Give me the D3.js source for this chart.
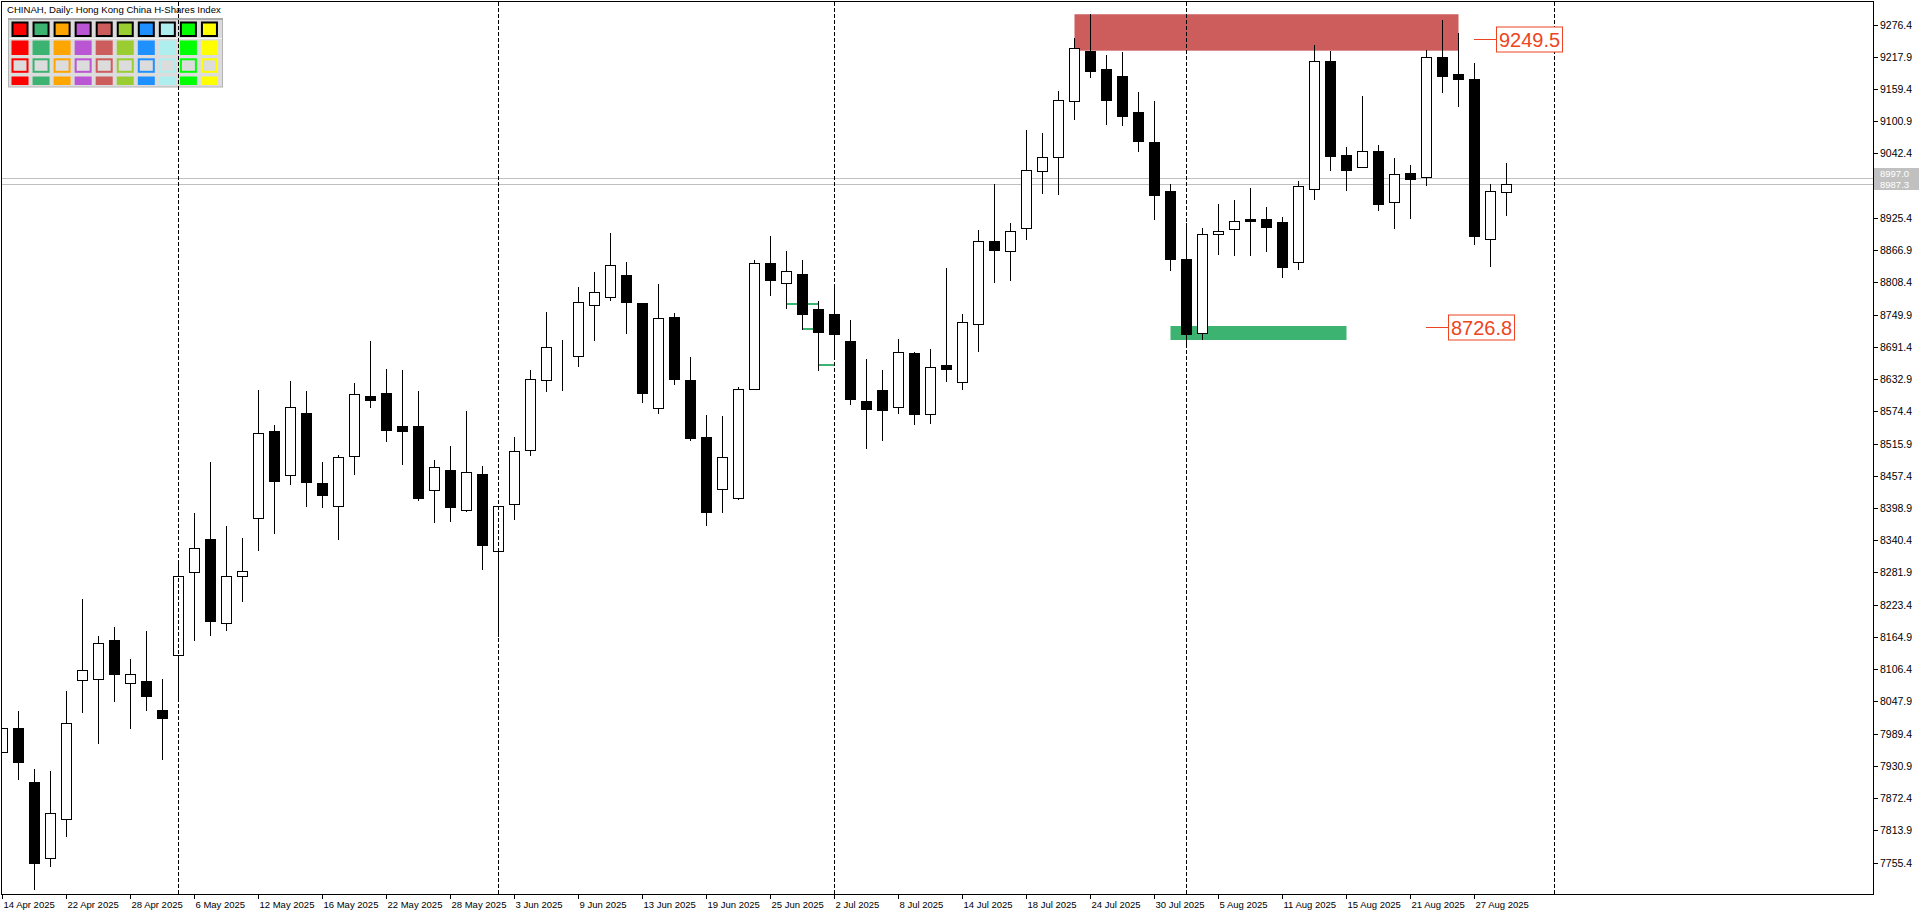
<!DOCTYPE html>
<html><head><meta charset="utf-8">
<script src="https://cdn.jsdelivr.net/npm/d3@7"></script>
<style>html,body{margin:0;padding:0;background:#fff;overflow:hidden}</style>
</head><body><svg id="c" width="1920" height="915"></svg>
<script>
// ---------- data ----------
const dates = ["2025-04-14","2025-04-15","2025-04-16","2025-04-17","2025-04-22","2025-04-23","2025-04-24","2025-04-25","2025-04-28","2025-04-29",
"2025-04-30","2025-05-02","2025-05-06","2025-05-07","2025-05-08","2025-05-09","2025-05-12","2025-05-13","2025-05-14","2025-05-15",
"2025-05-16","2025-05-19","2025-05-20","2025-05-21","2025-05-22","2025-05-23","2025-05-26","2025-05-27","2025-05-28","2025-05-29",
"2025-05-30","2025-06-02","2025-06-03","2025-06-04","2025-06-05","2025-06-06","2025-06-09","2025-06-10","2025-06-11","2025-06-12",
"2025-06-13","2025-06-16","2025-06-17","2025-06-18","2025-06-19","2025-06-20","2025-06-23","2025-06-24","2025-06-25","2025-06-26",
"2025-06-27","2025-06-30","2025-07-02","2025-07-03","2025-07-04","2025-07-07","2025-07-08","2025-07-09","2025-07-10","2025-07-11",
"2025-07-14","2025-07-15","2025-07-16","2025-07-17","2025-07-18","2025-07-21","2025-07-22","2025-07-23","2025-07-24","2025-07-25",
"2025-07-28","2025-07-29","2025-07-30","2025-07-31","2025-08-01","2025-08-04","2025-08-05","2025-08-06","2025-08-07","2025-08-08",
"2025-08-11","2025-08-12","2025-08-13","2025-08-14","2025-08-15","2025-08-18","2025-08-19","2025-08-20","2025-08-21","2025-08-22",
"2025-08-25","2025-08-26","2025-08-27","2025-08-28","2025-08-29"];
const opens = [7956.9,7998.8,7901.2,7763.1,7833.8,8086.3,8088.1,8158.8,8081.9,8084.4,
8031.9,8131.3,8281.9,8341.9,8189.4,8276.3,8381.3,8538.1,8458.2,8571.3,
8444.3,8401.9,8492.7,8601.6,8607.6,8547.7,8547.7,8430.9,8467.8,8394.6,
8460.6,8320.2,8405.5,8503.5,8630.6,8672.9,8674.2,8766.7,8781.2,8821.2,
8770.3,8579.8,8744.9,8630.6,8527.1,8432.8,8416.4,8614.3,8843.6,8806.6,
8823.6,8760.1,8751.0,8702.0,8593.1,8613.0,8582.7,8679.5,8568.8,8658.4,
8626.9,8732.2,8882.8,8864.7,8906.4,9009.9,9035.3,9136.9,9227.7,9195.0,
9182.3,9117.0,9062.5,8974.2,8850.8,8715.8,8895.5,8904.6,8923.4,8922.8,
8917.9,8844.7,8977.2,9209.5,9038.9,9017.1,9046.2,8954.8,9006.9,8999.0,
9217.4,9186.5,9177.5,8886.5,8971.8];
const highs = [7999.5,8030.0,7925.0,7921.9,8066.3,8233.1,8167.5,8182.5,8124.4,8175.0,
8088.1,8303.8,8390.0,8482.5,8365.6,8343.8,8612.5,8549.4,8629.0,8611.2,
8482.4,8494.5,8625.8,8702.0,8651.2,8649.3,8611.2,8486.0,8511.4,8574.9,
8475.1,8402.5,8527.7,8649.3,8754.6,8703.8,8799.4,8827.2,8898.0,8845.4,
8771.0,8804.8,8752.2,8672.9,8567.1,8565.3,8617.9,8848.4,8892.6,8865.3,
8849.0,8774.6,8798.2,8740.1,8669.3,8649.3,8705.6,8682.0,8686.8,8834.4,
8750.9,8903.4,8986.9,8915.5,9084.9,9079.5,9155.7,9251.3,9296.0,9221.0,
9226.5,9153.3,9137.5,8986.9,8915.5,8906.4,8950.6,8957.8,8979.6,8945.1,
8927.0,8991.7,9239.2,9228.3,9054.0,9146.6,9057.7,9034.1,9021.4,9230.1,
9284.5,9261.0,9207.1,8986.9,9025.0];
const lows = [7956.0,7907.5,7708.1,7750.0,7804.4,8029.4,7973.1,8049.4,7998.8,8033.1,
7943.8,8049.4,8160.0,8168.8,8178.1,8230.6,8321.9,8354.4,8443.0,8403.1,
8401.3,8342.6,8461.2,8582.8,8521.1,8479.3,8414.0,8373.5,8375.9,8394.0,
8288.8,8167.2,8379.5,8495.1,8611.8,8613.7,8657.2,8704.4,8777.0,8717.1,
8591.9,8571.9,8624.5,8522.9,8368.0,8391.6,8416.0,8614.0,8785.5,8762.5,
8723.8,8650.0,8669.9,8588.2,8508.4,8522.2,8571.9,8551.3,8553.7,8629.9,
8615.4,8684.4,8809.6,8813.3,8887.7,8971.2,8969.3,9105.5,9180.3,9096.4,
9094.6,9047.4,8923.4,8831.4,8698.9,8705.6,8859.8,8858.0,8858.0,8865.3,
8818.1,8833.2,8960.3,9012.3,8976.0,9017.0,8939.7,8907.0,8925.2,8985.1,
9153.9,9128.5,8878.0,8838.1,8931.2];
const closes = [7998.8,7937.5,7753.8,7845.0,8008.1,8104.4,8153.1,8098.1,8096.9,8058.1,
8018.1,8276.3,8325.6,8194.4,8276.3,8283.8,8534.4,8448.8,8581.8,8446.7,
8423.1,8490.8,8605.2,8595.5,8541.1,8539.2,8417.6,8472.7,8401.3,8463.6,
8332.3,8401.9,8501.7,8632.4,8690.5,8672.9,8772.2,8790.3,8839.3,8773.4,
8608.2,8743.1,8633.6,8526.5,8392.2,8490.8,8614.3,8842.9,8813.3,8828.4,
8751.6,8718.9,8715.3,8597.3,8579.2,8577.3,8681.4,8570.0,8654.1,8651.7,
8735.8,8882.8,8867.7,8901.0,9011.7,9035.3,9138.7,9233.1,9192.6,9140.0,
9110.9,9065.5,8967.5,8851.4,8715.2,8895.5,8901.0,8919.1,8920.3,8909.4,
8836.8,8982.7,9209.5,9038.3,9012.9,9046.2,8951.2,9004.4,8996.6,9216.8,
9183.5,9178.1,8893.1,8973.6,8987.3];

const yTickValues = [9276.4,9217.9,9159.4,9100.9,9042.4,8983.9,8925.4,8866.9,8808.4,8749.9,8691.4,8632.9,8574.4,8515.9,
8457.4,8398.9,8340.4,8281.9,8223.4,8164.9,8106.4,8047.9,7989.4,7930.9,7872.4,7813.9,7755.4];
const xTickLabels = ["14 Apr 2025","22 Apr 2025","28 Apr 2025","6 May 2025","12 May 2025","16 May 2025","22 May 2025",
"28 May 2025","3 Jun 2025","9 Jun 2025","13 Jun 2025","19 Jun 2025","25 Jun 2025","2 Jul 2025","8 Jul 2025",
"14 Jul 2025","18 Jul 2025","24 Jul 2025","30 Jul 2025","5 Aug 2025","11 Aug 2025","15 Aug 2025","21 Aug 2025","27 Aug 2025"];
const xTickEvery = 4;
const monthSeparatorIdx = [11, 31, 52, 74, 97];   // first bar of May, Jun, Jul, Aug, Sep

// zones: [fromIdx, toIdx, topPrice, bottomPrice]
const supplyZone = [67, 91, 9295.0, 9228.9];
const demandZone = [73, 84, 8729.2, 8703.8];
// small green level segments: [fromIdx, toIdx, price]
const greenSegs = [[49, 51, 8769.1], [50, 51, 8724.4], [51, 52, 8659.0]];
// level labels: [price, anchorIdx]
const levelLabels = [[9249.5, 92], [8726.8, 89]];
const askPrice = 8997.0, bidPrice = 8987.3;
const titleText = "CHINAH, Daily:  Hong Kong China H-Shares Index";
const legendColors = ["#FF0000","#3CB371","#FFA500","#BA55D3","#CD5C5C","#9ACD32","#1E90FF","#AFEEEE","#00FF00","#FFFF00"];

// ---------- layout ----------
const W = 1920, H = 915;
const L = 2, T = 2, R = 1873, B = 894;
const svg = d3.select("#c");
const x = d3.scaleLinear().domain([0, 94]).range([2.5, 2.5 + 16 * 94]);
const y = d3.scaleLinear().domain([7755.4, 9276.4]).range([862.6, 24.5]);
const cr = v => Math.round(v) + 0.5;
const FONT = "'Liberation Sans', Arial, sans-serif";

svg.append("rect").attr("width", W).attr("height", H).attr("fill", "#fff");

svg.append("defs").append("clipPath").attr("id", "plot")
  .append("rect").attr("x", L).attr("y", T).attr("width", R - L).attr("height", B - T);

// legend panel
const pg = svg.append("g");
pg.append("rect").attr("x", 8.5).attr("y", 18.5).attr("width", 214).attr("height", 68.5)
  .attr("fill", "#dcdcdc").attr("stroke", "#b4b4b4").attr("stroke-width", 1);
pg.append("line").attr("x1", 8).attr("x2", 223).attr("y1", 19).attr("y2", 19).attr("stroke", "#a8a8a8").attr("stroke-width", 2);
const colX = j => 11.5 + 21.05 * j;
legendColors.forEach((c, j) => {
  pg.append("rect").attr("x", colX(j) + 1).attr("y", 22.5).attr("width", 15).attr("height", 13.5)
    .attr("fill", c).attr("stroke", "#000").attr("stroke-width", 2);
  pg.append("rect").attr("x", colX(j)).attr("y", 40.5).attr("width", 17).attr("height", 14.5).attr("fill", c);
  pg.append("rect").attr("x", colX(j) + 1).attr("y", 59.3).attr("width", 15).attr("height", 12.5)
    .attr("fill", "#dcdcdc").attr("stroke", c).attr("stroke-width", 2);
  pg.append("rect").attr("x", colX(j)).attr("y", 76.5).attr("width", 17).attr("height", 8.5).attr("fill", c);
});
pg.append("line").attr("x1", 9).attr("x2", 222).attr("y1", 38.5).attr("y2", 38.5).attr("stroke", "#f4f4f4").attr("stroke-width", 1);

const plot = svg.append("g").attr("clip-path", "url(#plot)");

// zones
[[supplyZone, "#CD5C5C"], [demandZone, "#3CB371"]].forEach(([z, c]) => {
  plot.append("rect").attr("x", x(z[0])).attr("width", x(z[1]) - x(z[0]))
    .attr("y", y(z[2])).attr("height", y(z[3]) - y(z[2])).attr("fill", c);
});

// bid / ask lines
[askPrice, bidPrice].forEach(p => {
  plot.append("line").attr("x1", L).attr("x2", R).attr("y1", cr(y(p))).attr("y2", cr(y(p)))
    .attr("stroke", "#c0c0c0").attr("stroke-width", 1);
});

// green segments
greenSegs.forEach(s => {
  plot.append("line").attr("x1", x(s[0])).attr("x2", x(s[1])).attr("y1", Math.round(y(s[2]))).attr("y2", Math.round(y(s[2])))
    .attr("stroke", "#3CB371").attr("stroke-width", 2);
});

// candles
const idx = d3.range(opens.length);
plot.selectAll("line.wick").data(idx).join("line").attr("class", "wick")
  .attr("x1", i => x(i)).attr("x2", i => x(i))
  .attr("y1", i => Math.round(y(highs[i]))).attr("y2", i => Math.round(y(lows[i])) + 1)
  .attr("stroke", "#000").attr("stroke-width", 1);
plot.selectAll("rect.body").data(idx).join("rect").attr("class", "body")
  .attr("x", i => x(i) - 5).attr("width", 10)
  .attr("y", i => cr(y(Math.max(opens[i], closes[i]))))
  .attr("height", i => Math.max(0, Math.round(y(Math.min(opens[i], closes[i]))) - Math.round(y(Math.max(opens[i], closes[i])))))
  .attr("fill", i => closes[i] >= opens[i] ? "#fff" : "#000")
  .attr("stroke", "#000").attr("stroke-width", 1);

// month separators (drawn over panel and plot)
const sepG = svg.append("g");
monthSeparatorIdx.forEach(i => {
  sepG.append("line").attr("x1", x(i)).attr("x2", x(i)).attr("y1", T).attr("y2", B)
    .attr("stroke", "#000").attr("stroke-width", 1).attr("stroke-dasharray", "4,2");
});

// level labels
const LC = "#EE4422";
levelLabels.forEach(([p, i]) => {
  const yy = cr(y(p)), x0 = x(i) - 0.5;
  svg.append("line").attr("x1", x0).attr("x2", x0 + 22).attr("y1", yy).attr("y2", yy).attr("stroke", LC).attr("stroke-width", 1);
  svg.append("rect").attr("x", x0 + 22.5).attr("y", yy - 12.5).attr("width", 66).attr("height", 25)
    .attr("fill", "#fff").attr("stroke", LC).attr("stroke-width", 1);
  svg.append("text").attr("x", x0 + 22.5 + 33).attr("y", yy + 7.5).attr("text-anchor", "middle")
    .attr("font-family", FONT).attr("font-size", 20).attr("fill", LC).text(p.toFixed(1));
});

// frame
svg.append("rect").attr("x", 1.5).attr("y", 1.5).attr("width", R - 1.5 + 0.5).attr("height", B - 1.5 + 0.5)
  .attr("fill", "none").attr("stroke", "#000").attr("stroke-width", 1);

// y axis
const yAxisG = svg.append("g");
const askY = y(askPrice), bidY = y(bidPrice);
const YF = 10.5;
yTickValues.forEach(v => {
  const yy = cr(y(v));
  if (Math.abs(yy - askY) < 12 || Math.abs(yy - bidY) < 12) return;
  yAxisG.append("line").attr("x1", R).attr("x2", R + 5).attr("y1", yy).attr("y2", yy).attr("stroke", "#000");
  yAxisG.append("text").attr("x", R + 7).attr("y", yy + 3.8).attr("font-family", FONT).attr("font-size", YF)
    .attr("fill", "#000").text(v.toFixed(1));
});
// bid/ask price labels: grey tag, ask above, bid below
const tagTop = Math.round(askY) - 10, tagBot = Math.round(bidY) + 6;
yAxisG.append("rect").attr("x", R + 1).attr("y", tagTop).attr("width", 45).attr("height", tagBot - tagTop).attr("fill", "#c0c0c0");
yAxisG.append("text").attr("x", R + 7).attr("y", tagTop + 8.5).attr("font-family", FONT).attr("font-size", 9.5)
  .attr("fill", "#fff").text(askPrice.toFixed(1));
yAxisG.append("text").attr("x", R + 7).attr("y", tagBot - 2).attr("font-family", FONT).attr("font-size", 9.5)
  .attr("fill", "#fff").text(bidPrice.toFixed(1));

// x axis
const xAxisG = svg.append("g");
xTickLabels.forEach((lab, k) => {
  const xx = x(k * xTickEvery);
  xAxisG.append("line").attr("x1", xx).attr("x2", xx).attr("y1", B).attr("y2", B + 5).attr("stroke", "#000");
  xAxisG.append("text").attr("x", xx + 1).attr("y", B + 14).attr("font-family", FONT).attr("font-size", 9.5)
    .attr("fill", "#000").text(lab);
});

// title
svg.append("text").attr("x", 7).attr("y", 13).attr("font-family", FONT).attr("font-size", 9.6)
  .attr("fill", "#000").text(titleText);
</script></body></html>
